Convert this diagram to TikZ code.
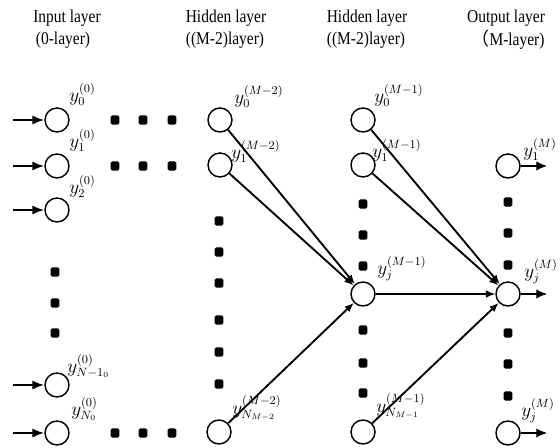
\documentclass[tikz,border=0pt]{standalone}
\usepackage{fontspec}
\setmainfont{Liberation Serif}
\newfontfamily\hdr[FakeStretch=0.86]{Liberation Serif}
\newfontfamily\cjk{Noto Sans CJK SC}
\DeclareMathSizes{14}{14}{8.6}{6.5}
\usetikzlibrary{arrows.meta}
\begin{document}
\begin{tikzpicture}[x=0.75pt,y=-0.75pt,
  neuron/.style={circle,draw,line width=1.1pt,minimum size=18pt,inner sep=0pt},
  dotmark/.style={fill,rounded corners=1.2pt,minimum width=6.6pt,minimum height=7pt,inner sep=0pt},
  inarrow/.style={line width=1.6pt,-{Latex[length=9pt,width=7pt]}},
  link/.style={line width=1.4pt,-{Latex[length=7pt,width=5.5pt]}},
  thinlink/.style={line width=0.8pt,-{Latex[length=7pt,width=5.5pt]}},
  outarrow/.style={line width=0.9pt,-{Latex[length=8pt,width=7pt]}},
  lbl/.style={anchor=south west,inner sep=0pt,font=\fontsize{14}{16}\selectfont},
  head/.style={inner sep=0pt,font=\hdr\fontsize{13.5}{15}\selectfont}]
\useasboundingbox (0,0) rectangle (560,448);

% layer headings
\node[head] (t1a) at (67,18) {Input layer};
\node[head] (t1b) at (63,40) {(0-layer)};
\node[head] (t2a) at (226,18) {Hidden layer};
\node[head] (t2b) at (225,40) {((M-2)layer)};
\node[head] (t3a) at (367,18) {Hidden layer};
\node[head] (t3b) at (366,40) {((M-2)layer)};
\node[head] (t4a) at (506,18) {Output layer};
\node[head] (t4b) at (508,40) {{\cjk （}M-layer)};

% input layer
\node[neuron] (i0) at (57,120) {};
\node[neuron] (i1) at (57,166) {};
\node[neuron] (i2) at (57,210) {};
\node[neuron] (iA) at (57,385) {};
\node[neuron] (iB) at (57,433) {};
\foreach \n/\y in {i0/120,i1/166,i2/210,iA/385,iB/433}{
  \coordinate (s\n) at (13,\y);
  \draw[inarrow] (s\n) -- (\n.west);
}
\foreach \y [count=\k] in {272,303,333}
  \node[dotmark] (di\k) at (55,\y) {};

% horizontal dot rows
\foreach \x [count=\k] in {115,143,172}{
  \node[dotmark] (ra\k) at (\x,120) {};
  \node[dotmark] (rb\k) at (\x,166) {};
  \node[dotmark] (rc\k) at (\x,433) {};
}

% hidden layer M-2
\node[neuron] (h0) at (220,120) {};
\node[neuron] (h1) at (220,165) {};
\node[neuron] (hB) at (219,432) {};
\foreach \y [count=\k] in {221,252,283,320,352,384}
  \node[dotmark] (dh\k) at (219,\y) {};

% hidden layer M-1
\node[neuron] (g0) at (363,120) {};
\node[neuron] (g1) at (363,165) {};
\node[neuron] (gj) at (363,294) {};
\node[neuron] (gB) at (363,432) {};
\foreach \y [count=\k] in {204,235,266,330,363,393}
  \node[dotmark] (dg\k) at (363,\y) {};

% output layer
\node[neuron] (o1) at (508,166) {};
\node[neuron] (oj) at (508,294) {};
\node[neuron] (oB) at (508,433) {};
\foreach \y [count=\k] in {202,233,265,333,364,396}
  \node[dotmark] (do\k) at (508,\y) {};
\foreach \n/\y in {o1/166,oj/294,oB/433}{
  \coordinate (e\n) at (547,\y);
  \draw[outarrow] (\n.east) -- (e\n);
}

% connections into neuron j
\draw[link] (h0) -- (gj);
\draw[link] (h1) -- (gj);
\draw[link] (hB) -- (gj);
\draw[link] (g0) -- (oj);
\draw[link] (g1) -- (oj);
\draw[thinlink] (gj) -- (oj);
\draw[link] (gB) -- (oj);

% neuron labels
\node[lbl] (li0) at (69,106) {$y^{(0)}_0$};
\node[lbl] (li1) at (69,152) {$y^{(0)}_1$};
\node[lbl] (li2) at (69,198) {$y^{(0)}_2$};
\node[lbl] (liA) at (67,378) {$y^{(0)}_{N-1_0}$};
\node[lbl] (liB) at (71,421) {$y^{(0)}_{N_0}$};
\node[lbl] (lh0) at (234,108) {$y^{(M-2)}_0$};
\node[lbl] (lh1) at (231,163) {$y^{(M-2)}_1$};
\node[lbl] (lhB) at (232,421) {$y^{(M-2)}_{N_{M-2}}$};
\node[lbl] (lg0) at (374,107) {$y^{(M-1)}_0$};
\node[lbl] (lg1) at (372,162) {$y^{(M-1)}_1$};
\node[lbl] (lgj) at (377,281) {$y^{(M-1)}_j$};
\node[lbl] (lgB) at (376,419) {$y^{(M-1)}_{N_{M-1}}$};
\node[lbl] (lo1) at (523,161) {$y^{(M)}_1$};
\node[lbl] (loj) at (524,284) {$y^{(M)}_j$};
\node[lbl] (loB) at (521,423) {$y^{(M)}_j$};
\end{tikzpicture}
\end{document}
